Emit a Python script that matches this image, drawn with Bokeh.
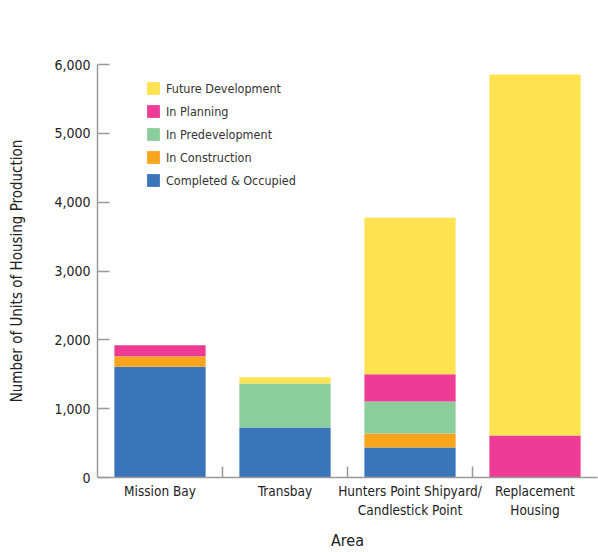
from bokeh.plotting import figure
from bokeh.models import (ColumnDataSource, Range1d, FixedTicker, NumeralTickFormatter,
                          Legend, LegendItem)
from bokeh.embed import file_html
from bokeh.resources import INLINE

areas = ["Mission Bay", "Transbay", "Hunters Point Shipyard/\nCandlestick Point", "Replacement\nHousing"]
completed = [1610, 725, 435, 0]
construction = [150, 0, 205, 0]
predevelopment = [0, 640, 465, 0]
planning = [160, 0, 395, 610]
future = [0, 90, 2275, 5245]

stages = ["Completed & Occupied", "In Construction", "In Predevelopment", "In Planning", "Future Development"]
colors = ["#3A75BA", "#F8A51E", "#8CCD9C", "#EE3C96", "#FEE250"]
y_ticks = [0, 1000, 2000, 3000, 4000, 5000, 6000]

FONT = "DejaVu Sans Condensed"

n = len(areas)
xs = [i + 0.5 for i in range(n)]
keys = ["c", "k", "d", "p", "f"]
source = ColumnDataSource(dict(x=xs, c=completed, k=construction, d=predevelopment, p=planning, f=future))

p = figure(width=598, height=552, x_range=Range1d(0, n), y_range=Range1d(0, 6000),
           output_backend="svg", toolbar_location=None,
           min_border_left=97, min_border_top=64, min_border_right=1, min_border_bottom=75)
p.outline_line_color = None
p.xgrid.grid_line_color = None
p.ygrid.grid_line_color = None

renderers = p.vbar_stack(keys, x="x", width=0.73, color=colors, line_color=None, source=source)

legend = Legend(items=[LegendItem(label=s, renderers=[r]) for s, r in reversed(list(zip(stages, renderers)))],
                location=(48, 289), padding=0, margin=0, spacing=7, glyph_width=16, glyph_height=16,
                label_height=16, label_standoff=5, border_line_color=None, background_fill_alpha=0,
                label_text_font=FONT, label_text_font_size="12.5px", label_text_color="#333333")
p.add_layout(legend)

# y axis
ya = p.yaxis[0]
ya.ticker = FixedTicker(ticks=y_ticks)
ya.formatter = NumeralTickFormatter(format="0,0")
ya.major_tick_in = 12
ya.major_tick_out = 0
ya.minor_tick_line_color = None
ya.axis_line_color = "#9a9a9a"
ya.axis_line_width = 1.5
ya.major_tick_line_color = "#9a9a9a"
ya.major_tick_line_width = 1.5
ya.major_label_text_font = FONT
ya.major_label_text_font_size = "14px"
ya.major_label_text_color = "#222222"
ya.major_label_standoff = 7
ya.axis_label = "Number of Units of Housing Production"
ya.axis_label_text_font = FONT
ya.axis_label_text_font_style = "normal"
ya.axis_label_text_font_size = "15px"
ya.axis_label_text_color = "#222222"
ya.axis_label_standoff = 25

# x axis: labels at bar centres, boundary ticks as minor ticks
xa = p.xaxis[0]
xa.ticker = FixedTicker(ticks=xs, minor_ticks=[float(i) for i in range(1, n)])
xa.major_label_overrides = {x: a for x, a in zip(xs, areas)}
xa.major_tick_line_color = None
xa.major_tick_in = 0
xa.major_tick_out = 0
xa.minor_tick_in = 11
xa.minor_tick_out = 0
xa.minor_tick_line_color = "#9a9a9a"
xa.minor_tick_line_width = 1.5
xa.axis_line_color = "#9a9a9a"
xa.axis_line_width = 1.5
xa.major_label_text_font = FONT
xa.major_label_text_font_size = "13.5px"
xa.major_label_text_color = "#222222"
xa.major_label_standoff = 5
xa.axis_label = "Area"
xa.axis_label_text_font = FONT
xa.axis_label_text_font_style = "normal"
xa.axis_label_text_font_size = "16px"
xa.axis_label_text_color = "#222222"
xa.axis_label_standoff = 10

open("out.html", "w").write(file_html(p, INLINE))
